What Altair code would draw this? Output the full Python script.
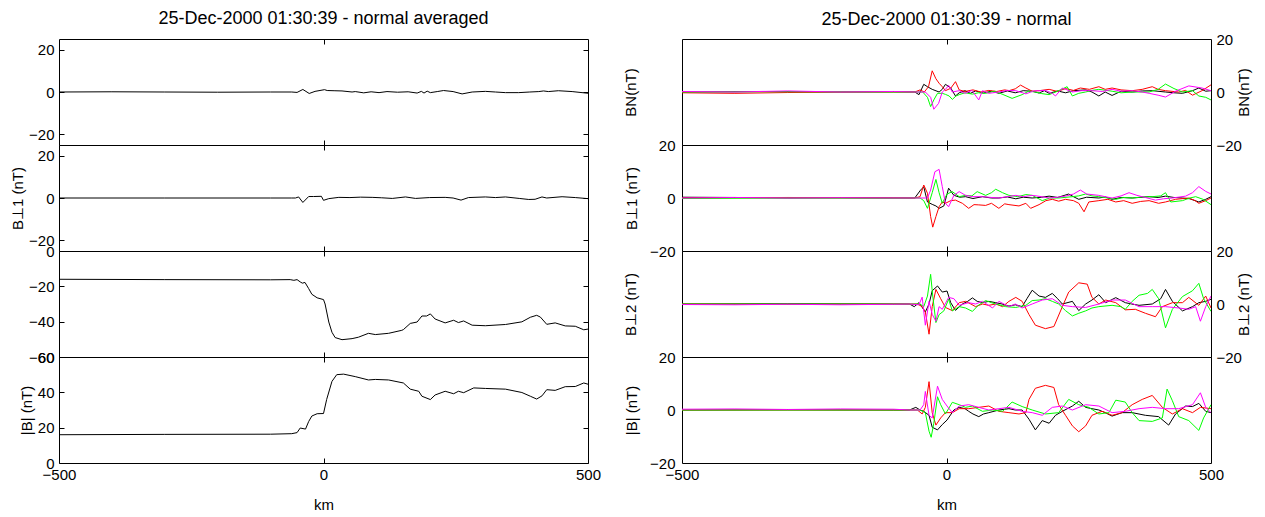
import altair as alt
import pandas as pd

# ---------------- data (km, nT) ----------------
# Left column: averaged field
AVG_BN = [(-500,0.0),(-400,0.1),(-300,0.0),(-200,-0.1),(-100,0.0),(-60,0.0),(-50,-0.2),(-39,1.2),(-27,-0.7),(-16,0.3),(2,1.1),(7,0.7),(20,0.6),(35,0.5),(54,0.0),(60,0.2),(76,-0.4),(90,0.1),(105,-0.3),(120,0.2),(140,-0.1),(160,0.1),(177,-0.5),(185,0.3),(190,-0.5),(196,0.4),(202,-0.3),(215,0.2),(227,0.7),(245,0.2),(262,-0.9),(281,0.0),(306,0.3),(325,0.0),(344,-0.3),(369,-0.3),(390,0.0),(407,0.2),(416,0.5),(425,0.2),(444,0.6),(470,0.2),(500,-0.6)]
AVG_BP1 = [(-500,0.0),(-300,0.0),(-100,0.0),(-60,0.0),(-53,0.0),(-47,0.5),(-39,-2.1),(-28,0.7),(-19,0.7),(-4,0.8),(0,-1.1),(10,-0.3),(29,0.3),(50,0.2),(70,0.4),(92,0.3),(110,0.1),(130,-0.2),(155,0.5),(174,-0.2),(200,0.2),(230,0.3),(245,0.0),(260,-1.0),(274,0.2),(306,0.5),(325,0.2),(344,0.5),(370,-0.2),(388,-0.7),(400,-0.6),(413,0.5),(422,0.0),(451,0.6),(476,0.2),(500,-0.3)]
AVG_BP2 = [(-500,-16.0),(-300,-16.2),(-100,-16.3),(-63,-16.2),(-56,-16.6),(-50,-16.2),(-44,-17.5),(-40,-18.2),(-35,-17.8),(-28,-21.3),(-22,-24.5),(-12,-26.5),(0,-27.5),(3,-30.0),(10,-40.2),(16,-46.0),(22,-49.0),(35,-50.2),(54,-49.6),(66,-48.8),(85,-46.6),(98,-47.3),(123,-46.6),(148,-44.9),(151,-44.5),(164,-41.0),(177,-40.2),(186,-36.8),(195,-36.8),(202,-35.6),(211,-38.5),(230,-40.7),(246,-39.2),(255,-40.5),(265,-39.6),(281,-42.0),(306,-42.3),(344,-41.6),(375,-40.1),(391,-37.5),(403,-36.4),(410,-37.4),(422,-41.5),(438,-40.7),(457,-42.4),(476,-42.6),(492,-44.6),(500,-44.2)]
AVG_BMAG = [(-500,16.0),(-300,16.2),(-100,16.3),(-60,16.6),(-50,17.2),(-44,19.8),(-34,19.2),(-28,23.5),(-22,26.6),(-12,27.9),(0,28.0),(6,36.0),(16,46.2),(25,50.0),(38,50.3),(60,48.9),(85,47.0),(98,47.3),(123,47.0),(151,45.3),(164,41.8),(180,40.6),(186,37.8),(202,35.9),(211,38.5),(230,40.6),(246,39.2),(255,40.6),(265,39.8),(284,42.5),(306,42.2),(344,41.8),(375,39.9),(391,37.8),(403,36.2),(413,38.0),(422,41.5),(438,41.1),(457,43.2),(476,43.3),(492,45.3),(500,44.6)]

# Right column: four spacecraft (black, red, green, magenta)
BN_K = [(-500,0.0),(-350,0.2),(-200,0.0),(-100,0.1),(-60,0.0),(-52,-1.0),(-43,2.9),(-36,2.0),(-27,1.0),(-14,0.0),(-8,1.0),(-2,2.9),(8,1.5),(17,-1.5),(24,-0.3),(35,0.5),(45,-0.5),(55,0.4),(70,-0.4),(85,0.3),(99,-0.5),(115,0.4),(130,-0.3),(145,0.5),(162,0.3),(175,-0.4),(185,0.5),(194,-0.5),(210,0.4),(225,-0.3),(240,0.5),(263,0.8),(275,0.0),(288,-1.5),(300,0.0),(313,-1.3),(330,0.3),(351,0.0),(370,0.4),(389,0.5),(414,0.0),(430,-0.3),(446,-0.5),(465,0.5),(477,1.5),(490,0.3),(500,0.5)]
BN_R = [(-500,-0.3),(-400,-0.5),(-300,-0.2),(-200,0.0),(-100,0.0),(-60,0.0),(-50,0.8),(-42,0.0),(-34,2.0),(-27,8.0),(-20,5.0),(-14,3.3),(-8,2.0),(-2,0.5),(8,1.4),(17,3.9),(24,0.8),(35,0.2),(50,0.8),(65,0.0),(80,0.6),(95,0.2),(110,0.8),(118,0.5),(130,1.2),(140,2.6),(150,1.5),(162,0.3),(175,0.5),(194,1.0),(210,0.2),(225,1.3),(240,0.6),(253,1.5),(270,1.0),(288,2.0),(300,1.0),(313,1.5),(330,0.8),(351,0.5),(370,1.0),(389,2.0),(400,1.0),(414,0.5),(439,0.0),(452,0.6),(465,-1.2),(483,0.5),(500,2.7)]
BN_G = [(-500,0.0),(-300,0.1),(-100,0.0),(-60,0.0),(-45,0.0),(-36,-2.0),(-30,-5.5),(-24,-3.0),(-17,-0.5),(-8,-0.5),(-2,-0.9),(5,-1.5),(11,-2.8),(18,-1.5),(24,-1.0),(35,-0.3),(49,-0.8),(60,-0.3),(74,-0.5),(90,0.3),(105,-0.8),(124,-2.4),(143,-1.0),(155,0.3),(168,0.0),(180,-0.6),(194,-1.0),(210,0.3),(228,2.0),(238,-1.5),(250,-0.5),(263,0.0),(275,0.6),(288,1.0),(313,0.3),(330,-0.3),(351,0.0),(383,0.0),(400,1.0),(414,3.0),(430,1.3),(446,0.0),(465,0.5),(477,-1.5),(490,-2.0),(500,-3.0)]
BN_M = [(-500,0.2),(-400,0.0),(-300,0.4),(-200,0.0),(-100,0.2),(-60,0.0),(-40,0.0),(-30,-2.0),(-24,-6.5),(-15,-4.3),(-8,0.0),(-2,1.0),(4,2.5),(11,0.0),(24,0.5),(35,-0.5),(48,0.6),(61,-3.0),(68,0.5),(80,-0.5),(99,0.0),(115,0.6),(131,0.5),(150,-0.7),(165,0.4),(187,0.6),(200,-0.5),(206,-1.5),(219,1.5),(238,0.0),(255,0.5),(275,0.5),(295,0.2),(313,1.0),(330,0.3),(351,0.5),(370,0.0),(383,-0.5),(400,-1.2),(414,-1.9),(433,0.3),(458,2.3),(483,1.5),(500,0.5)]

B1_K = [(-500,0.3),(-400,0.2),(-300,0.0),(-200,0.1),(-100,0.0),(-60,0.0),(-49,3.0),(-43,4.2),(-36,-1.5),(-27,-2.4),(-20,-3.0),(-14,-3.9),(-5,-3.0),(4,3.7),(14,1.0),(25,0.3),(36,0.5),(50,-0.2),(68,0.5),(85,0.0),(99,0.0),(115,0.4),(131,-0.3),(145,0.3),(162,0.0),(180,0.3),(194,0.7),(210,0.2),(231,1.5),(240,0.5),(250,-0.5),(265,0.3),(288,0.0),(300,0.4),(313,-0.5),(330,0.2),(351,0.0),(383,0.5),(400,0.2),(414,0.7),(430,0.2),(446,0.0),(460,-0.3),(477,-1.5),(490,-0.5),(500,0.5)]
B1_R = [(-500,0.0),(-300,0.2),(-100,0.0),(-60,0.0),(-50,0.5),(-43,4.9),(-36,1.8),(-30,-7.0),(-26,-11.0),(-20,-7.0),(-14,-3.3),(-8,-1.5),(-2,-2.0),(8,-1.0),(17,-0.8),(30,-2.0),(42,-3.9),(52,-2.5),(61,-2.6),(74,-2.8),(85,-2.0),(99,-3.9),(110,-2.2),(118,-2.5),(137,-3.0),(150,-2.0),(159,-3.9),(175,-2.5),(188,-1.0),(200,-0.5),(212,-1.2),(225,-0.5),(240,-1.0),(250,-2.0),(260,-5.2),(269,-1.5),(288,-1.0),(305,-0.5),(320,-1.5),(335,-1.0),(351,-2.0),(367,-1.3),(383,-1.0),(401,-2.0),(414,-1.5),(433,-0.5),(458,0.0),(470,-1.0),(477,-2.0),(490,-1.0),(500,0.0)]
B1_G = [(-500,-0.2),(-300,0.0),(-100,-0.1),(-60,0.0),(-50,0.0),(-43,-1.0),(-36,-3.9),(-27,2.0),(-20,7.0),(-14,2.0),(-8,-2.0),(1,1.5),(11,2.4),(24,0.5),(36,1.0),(48,0.8),(58,2.4),(74,1.0),(85,2.0),(93,3.3),(106,2.0),(118,1.0),(135,0.5),(150,1.3),(162,1.0),(181,-1.0),(195,0.0),(212,0.0),(238,0.5),(250,0.8),(263,1.5),(275,0.8),(288,0.5),(305,0.0),(320,-0.5),(335,0.2),(351,0.0),(370,0.4),(389,0.5),(405,0.8),(414,2.0),(424,-1.5),(446,-1.0),(460,0.0),(471,0.5),(485,-0.5),(500,-2.5)]
B1_M = [(-500,0.0),(-400,0.2),(-300,0.0),(-200,0.1),(-100,0.0),(-60,0.0),(-40,0.0),(-36,0.0),(-30,3.0),(-22,9.9),(-14,10.8),(-8,4.3),(-2,-2.0),(4,-3.3),(14,1.0),(24,2.4),(36,1.0),(50,0.5),(68,0.5),(85,0.2),(99,0.0),(115,0.5),(131,1.0),(145,0.5),(162,1.0),(180,0.5),(194,0.0),(210,0.3),(225,0.7),(240,1.5),(253,3.0),(265,1.5),(288,1.0),(300,0.5),(313,0.0),(330,0.8),(345,2.0),(360,1.0),(370,0.5),(395,-0.8),(410,-0.3),(427,0.0),(452,0.7),(465,2.0),(477,4.3),(490,2.5),(500,1.5)]

B2_K = [(-500,0.0),(-300,0.1),(-100,0.0),(-70,0.0),(-61,-1.0),(-52,0.5),(-40,-3.0),(-33,0.0),(-27,5.0),(-17,6.8),(-8,4.5),(1,4.9),(8,0.5),(17,-2.4),(30,0.0),(40,1.0),(49,2.3),(58,1.0),(68,0.5),(80,1.0),(93,0.5),(105,0.0),(118,-0.8),(130,-0.3),(143,-1.0),(152,2.0),(162,5.2),(175,3.0),(187,2.5),(200,4.0),(210,2.0),(219,0.0),(238,1.0),(250,-2.5),(263,0.0),(275,1.5),(288,3.5),(301,0.5),(320,2.4),(338,0.5),(350,0.0),(364,-0.5),(389,0.0),(405,2.0),(414,5.5),(427,1.0),(446,-2.6),(465,-1.0),(477,0.5),(490,1.0),(500,1.8)]
B2_R = [(-500,0.0),(-300,-0.1),(-100,0.0),(-70,0.0),(-55,0.0),(-46,-1.0),(-40,-3.0),(-33,-11.4),(-27,-1.0),(-20,5.5),(-11,2.0),(-2,-1.3),(11,-2.5),(24,0.5),(36,1.0),(46,0.0),(55,-1.0),(68,0.0),(80,-0.5),(93,0.0),(106,-1.0),(118,1.0),(131,2.5),(143,1.0),(156,-4.0),(168,-8.0),(187,-9.3),(203,-8.5),(219,-1.0),(231,4.5),(250,8.0),(266,7.5),(275,2.5),(288,0.0),(301,1.5),(320,0.5),(338,-2.2),(357,-2.0),(376,-3.5),(395,-4.8),(408,-1.0),(427,0.5),(446,0.5),(458,2.5),(477,-0.5),(490,3.0),(500,-1.5)]
B2_G = [(-500,0.0),(-300,0.0),(-100,0.0),(-70,0.0),(-50,0.0),(-43,-1.0),(-36,3.0),(-30,11.2),(-26,3.0),(-20,-7.0),(-14,-4.0),(-5,-2.6),(4,1.8),(11,-2.6),(24,-1.0),(36,-1.5),(49,-2.8),(60,-0.5),(74,1.3),(85,0.5),(93,0.0),(112,-1.0),(131,-1.3),(150,-0.5),(162,1.3),(175,1.5),(187,2.0),(200,1.0),(212,0.0),(225,-2.5),(238,-4.5),(250,-3.5),(263,-2.6),(275,-1.5),(288,-1.0),(313,-0.5),(330,-1.0),(338,-2.0),(351,1.0),(364,3.3),(380,4.0),(389,5.5),(401,2.0),(414,-9.0),(427,-2.0),(446,2.8),(465,5.0),(477,7.8),(486,2.0),(500,-2.8)]
B2_M = [(-500,-0.2),(-400,-0.3),(-300,-0.1),(-200,-0.3),(-100,-0.1),(-70,0.0),(-52,-0.3),(-46,2.6),(-40,-8.0),(-33,1.0),(-27,-3.9),(-20,-6.5),(-14,-1.0),(-8,-2.0),(4,2.5),(14,2.0),(24,-0.5),(42,0.5),(55,0.0),(68,1.0),(87,-1.5),(99,1.0),(118,-1.0),(130,0.0),(143,-1.5),(162,0.0),(181,1.5),(200,2.0),(219,-0.5),(238,-1.0),(263,-1.3),(288,0.0),(313,1.5),(338,1.5),(364,-1.0),(389,-1.0),(414,-1.0),(439,-1.5),(458,-2.0),(471,-1.0),(480,-6.5),(490,-1.0),(500,3.0)]

BM_K = [(-500,0.0),(-300,0.1),(-100,0.0),(-70,0.0),(-58,1.0),(-50,0.0),(-43,-0.5),(-33,-2.0),(-27,-6.5),(-17,-7.5),(-8,-5.5),(1,-3.8),(14,0.0),(24,1.0),(35,0.5),(42,-0.5),(50,-1.5),(61,-2.5),(70,-1.5),(80,-1.0),(99,0.0),(118,0.5),(130,0.0),(143,0.0),(156,-3.5),(168,-7.5),(181,-4.0),(194,-5.0),(206,-2.0),(219,-0.5),(238,1.5),(250,3.3),(263,1.0),(275,0.5),(288,0.0),(300,-1.0),(313,-2.3),(332,-1.0),(351,-1.0),(376,-2.0),(401,-2.5),(420,-5.7),(433,-1.5),(452,1.5),(465,1.3),(477,2.5),(490,-0.5),(500,-1.0)]
BM_R = [(-500,0.0),(-300,0.0),(-100,0.0),(-70,0.0),(-55,0.0),(-46,-1.5),(-40,1.0),(-33,10.7),(-27,-1.0),(-20,-5.7),(-11,-3.0),(-2,-1.0),(11,-1.0),(24,0.5),(42,0.5),(61,1.0),(80,1.5),(99,-0.5),(118,-1.0),(137,-1.5),(150,-1.0),(156,4.0),(168,8.2),(187,9.3),(203,8.5),(212,2.0),(225,-2.0),(238,-6.0),(250,-8.2),(263,-6.0),(275,-2.0),(294,-0.5),(313,-2.0),(332,-1.0),(351,2.0),(370,4.0),(389,5.5),(408,1.0),(427,-1.5),(446,0.5),(465,-1.0),(480,1.0),(500,0.5)]
BM_G = [(-500,0.0),(-300,0.0),(-100,0.0),(-70,0.0),(-50,0.0),(-40,-1.0),(-33,-8.0),(-29,-10.3),(-24,-5.0),(-17,5.0),(-11,2.0),(-2,-1.5),(11,2.9),(24,2.0),(36,1.0),(49,1.5),(68,-0.5),(87,0.0),(106,-0.5),(124,3.0),(143,1.3),(162,0.0),(187,-1.5),(212,-1.0),(231,4.0),(250,2.0),(269,1.0),(288,-1.5),(307,-1.0),(320,3.7),(338,3.0),(351,-1.0),(364,-4.0),(389,-4.3),(408,-3.0),(417,7.9),(427,3.5),(439,-2.5),(458,-4.0),(477,-7.7),(486,-3.0),(500,2.0)]
BM_M = [(-500,0.3),(-400,0.4),(-300,0.2),(-200,0.4),(-100,0.3),(-70,0.0),(-50,0.0),(-43,2.0),(-40,7.0),(-33,-2.0),(-27,-3.0),(-17,9.0),(-8,4.0),(1,1.5),(11,-1.0),(24,1.5),(42,2.0),(61,1.0),(80,0.0),(99,0.5),(118,1.0),(143,-0.5),(162,-1.0),(181,-2.0),(200,1.0),(219,1.5),(238,0.0),(263,2.0),(288,1.5),(313,-1.0),(338,-0.5),(364,0.5),(389,1.0),(414,0.5),(439,0.5),(465,2.0),(480,6.5),(490,1.0),(500,-1.0)]

TITLE_LEFT = "25-Dec-2000 01:30:39 - normal averaged"
TITLE_RIGHT = "25-Dec-2000 01:30:39 - normal"
X_TICKS = [-500, 0, 500]

# ---------------- styling ----------------
FONT = "Liberation Sans"
W, H = 529, 106
COL_GAP = 97
BLACK, RED, GREEN, MAGENTA = "#000000", "#ff0000", "#00ff00", "#ff00ff"
XS = alt.Scale(domain=[-500, 500], nice=False, zero=False)


def frame(pts):
    return pd.DataFrame({"km": [p[0] for p in pts], "val": [p[1] for p in pts],
                         "i": list(range(len(pts)))})


def line_layer(pts, color, ysc, xaxis=None, yaxis=None, hidden=False):
    return alt.Chart(frame(pts)).mark_line(
        color=color, strokeWidth=1, clip=True, strokeOpacity=0 if hidden else 1
    ).encode(
        x=alt.X("km:Q", scale=XS, axis=xaxis),
        y=alt.Y("val:Q", scale=ysc, axis=yaxis),
        order=alt.Order("i:Q"),
    )


def tick_axis(orient, offset, values):
    return alt.Axis(orient=orient, offset=offset, values=values, labels=False,
                    domain=False, grid=False, ticks=True, tickSize=5, title=None)


def panel(series, ydom, yticks, left_title=None, left_labels=True, right_title=None,
          right_labels=False, bottom=False, yinner=True, title=None, title_offset=0,
          right_col=False):
    ysc = alt.Scale(domain=ydom, nice=False, zero=False)
    xmain = None
    if bottom:
        xmain = alt.Axis(orient="bottom", values=X_TICKS, title="km", tickSize=0,
                         domain=False, grid=False, labelPadding=4, titlePadding=15,
                         labelFlush=False, labelOverlap=False, format="d")
    lpad = 7 if right_col else 5
    if left_labels:
        ltitle_pad = 10 if right_col else 3
    else:
        ltitle_pad = 43
    yleft = alt.Axis(orient="left", values=yticks, title=left_title, tickSize=0,
                     domain=False, grid=False, labelPadding=lpad, titlePadding=ltitle_pad,
                     labels=left_labels, labelFlush=False,
                     labelOverlap=False, format="d")
    first_pts, first_col = series[0]
    layers = [line_layer(first_pts, first_col, ysc, xaxis=xmain, yaxis=yleft)]
    for pts, col in series[1:]:
        layers.append(line_layer(pts, col, ysc))
    layers.append(line_layer(first_pts, first_col, ysc, hidden=True,
                             xaxis=tick_axis("top", -H, [0]),
                             yaxis=tick_axis("right", -W, yticks) if yinner else None))
    layers.append(line_layer(first_pts, first_col, ysc, hidden=True,
                             xaxis=tick_axis("bottom", -H, [0]),
                             yaxis=tick_axis("left", -W, yticks) if yinner else None))
    if right_labels or right_title:
        yright = alt.Axis(orient="right", values=yticks, title=right_title, tickSize=0,
                          domain=False, grid=False, labelPadding=5, titlePadding=10,
                          titleAngle=270, labels=right_labels,
                          labelFlush=False, labelOverlap=False, format="d")
        layers.append(line_layer(first_pts, first_col, ysc, hidden=True, yaxis=yright))
    props = dict(width=W, height=H)
    if title:
        props["title"] = alt.Title(title, anchor="middle", frame="group", offset=title_offset,
                                   fontSize=18, font=FONT, fontWeight="normal", color="black")
    return alt.layer(*layers).properties(**props).resolve_axis(x="independent", y="independent")


PM = [-20, 0, 20]
left = alt.vconcat(
    panel([(AVG_BN, BLACK)], [-25, 25], PM, left_title=None, title=TITLE_LEFT, title_offset=11),
    panel([(AVG_BP1, BLACK)], [-25, 25], PM, left_title="B⊥1 (nT)"),
    panel([(AVG_BP2, BLACK)], [-60, 0], [-60, -40, -20, 0], left_title=None),
    panel([(AVG_BMAG, BLACK)], [0, 60], [0, 20, 40, 60], left_title="|B| (nT)", bottom=True),
    spacing=0, bounds="flush",
)

right = alt.vconcat(
    panel([(BN_K, BLACK), (BN_R, RED), (BN_G, GREEN), (BN_M, MAGENTA)], [-20, 20], PM,
          left_title="BN(nT)", left_labels=False, right_title="BN(nT)", right_labels=True,
          yinner=False, title=TITLE_RIGHT, title_offset=3, right_col=True),
    panel([(B1_K, BLACK), (B1_R, RED), (B1_G, GREEN), (B1_M, MAGENTA)], [-20, 20], PM,
          left_title="B⊥1 (nT)", yinner=False, right_col=True),
    panel([(B2_K, BLACK), (B2_R, RED), (B2_G, GREEN), (B2_M, MAGENTA)], [-20, 20], PM,
          left_title="B⊥2 (nT)", left_labels=False, right_title="B⊥2 (nT)", right_labels=True,
          yinner=False, right_col=True),
    panel([(BM_K, BLACK), (BM_R, RED), (BM_G, GREEN), (BM_M, MAGENTA)], [-20, 20], PM,
          left_title="|B| (nT)", yinner=False, bottom=True, right_col=True),
    spacing=0, bounds="flush",
)

# flush layout ignores the column's own width, so the spacing spans one plot width plus the gap
chart = alt.hconcat(left, right, spacing=W + COL_GAP - 3, bounds="flush").properties(
    padding={"left": 2, "top": 1, "right": 2, "bottom": 0}
).configure_view(
    stroke="black", strokeWidth=1
).configure_axis(
    labelFont=FONT, titleFont=FONT, labelFontSize=15, titleFontSize=15,
    titleFontWeight="normal", labelColor="black", titleColor="black",
    tickColor="black", domainColor="black"
).configure_title(font=FONT)

chart.save("out.html", embed_options={"renderer": "svg", "actions": False})
